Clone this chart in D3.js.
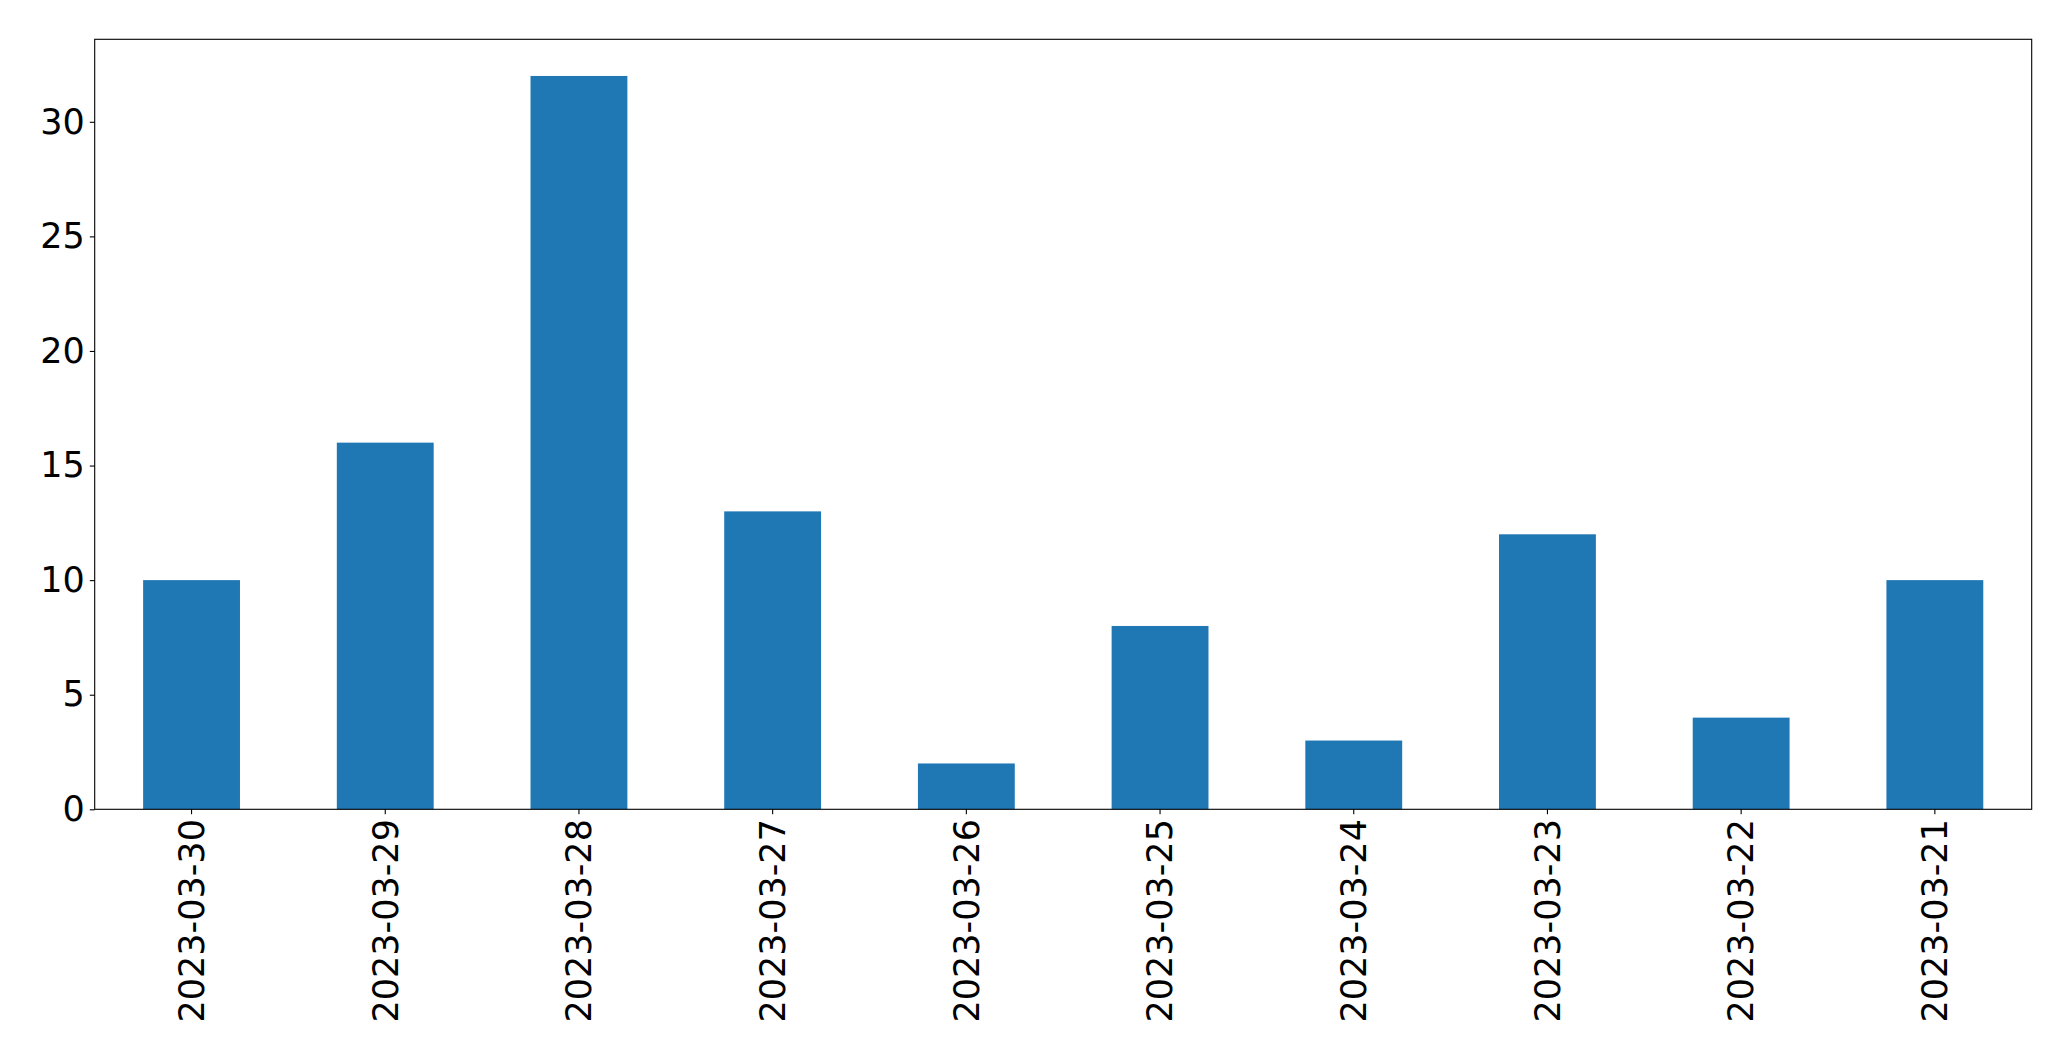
<!DOCTYPE html>
<html><head><meta charset="utf-8">
<script src="https://cdn.jsdelivr.net/npm/d3@7"></script>
<style>body{margin:0;background:#fff;} svg{display:block;}</style>
</head><body>
<script>
const categories = ["2023-03-30","2023-03-29","2023-03-28","2023-03-27","2023-03-26","2023-03-25","2023-03-24","2023-03-23","2023-03-22","2023-03-21"];
const values = [10,16,32,13,2,8,3,12,4,10];
const yTicks = [0,5,10,15,20,25,30];

const W = 2071, H = 1061;
const m = {left:94.7, right:2031.7, top:39.3, bottom:809.3};
const svg = d3.select("body").append("svg").attr("width",W).attr("height",H);
const x = d3.scaleBand().domain(categories).range([m.left,m.right]).paddingInner(0.5).paddingOuter(0.25);
const y = d3.scaleLinear().domain([0, d3.max(values)*1.05]).range([m.bottom,m.top]);

svg.append("g").selectAll("rect").data(values).join("rect")
  .attr("x",(d,i)=>x(categories[i])).attr("width",x.bandwidth())
  .attr("y",d=>y(d)).attr("height",d=>y(0)-y(d)).attr("fill","#1f77b4");

const font = "DejaVu Sans";
const gy = svg.append("g").attr("transform",`translate(${m.left},0)`)
  .call(d3.axisLeft(y).tickValues(yTicks).tickSize(4.9).tickPadding(4.9).tickFormat(d3.format("d")));
const gx = svg.append("g").attr("transform",`translate(0,${m.bottom})`)
  .call(d3.axisBottom(x).tickSize(4.9).tickPadding(4.9));
[gy,gx].forEach(g=>{
  g.select(".domain").remove();
  g.selectAll("line").attr("stroke","#000").attr("stroke-width",1.1);
  g.selectAll("text").attr("font-family",font).attr("font-size",35).attr("fill","#000");
});
gx.selectAll("text").attr("transform","rotate(-90)").attr("text-anchor","end")
  .attr("x",-9.8).attr("y",0).attr("dy","0.35em");

svg.append("rect").attr("x",m.left).attr("y",m.top).attr("width",m.right-m.left).attr("height",m.bottom-m.top)
  .attr("fill","none").attr("stroke","#000").attr("stroke-width",1.1);
</script>
</body></html>
